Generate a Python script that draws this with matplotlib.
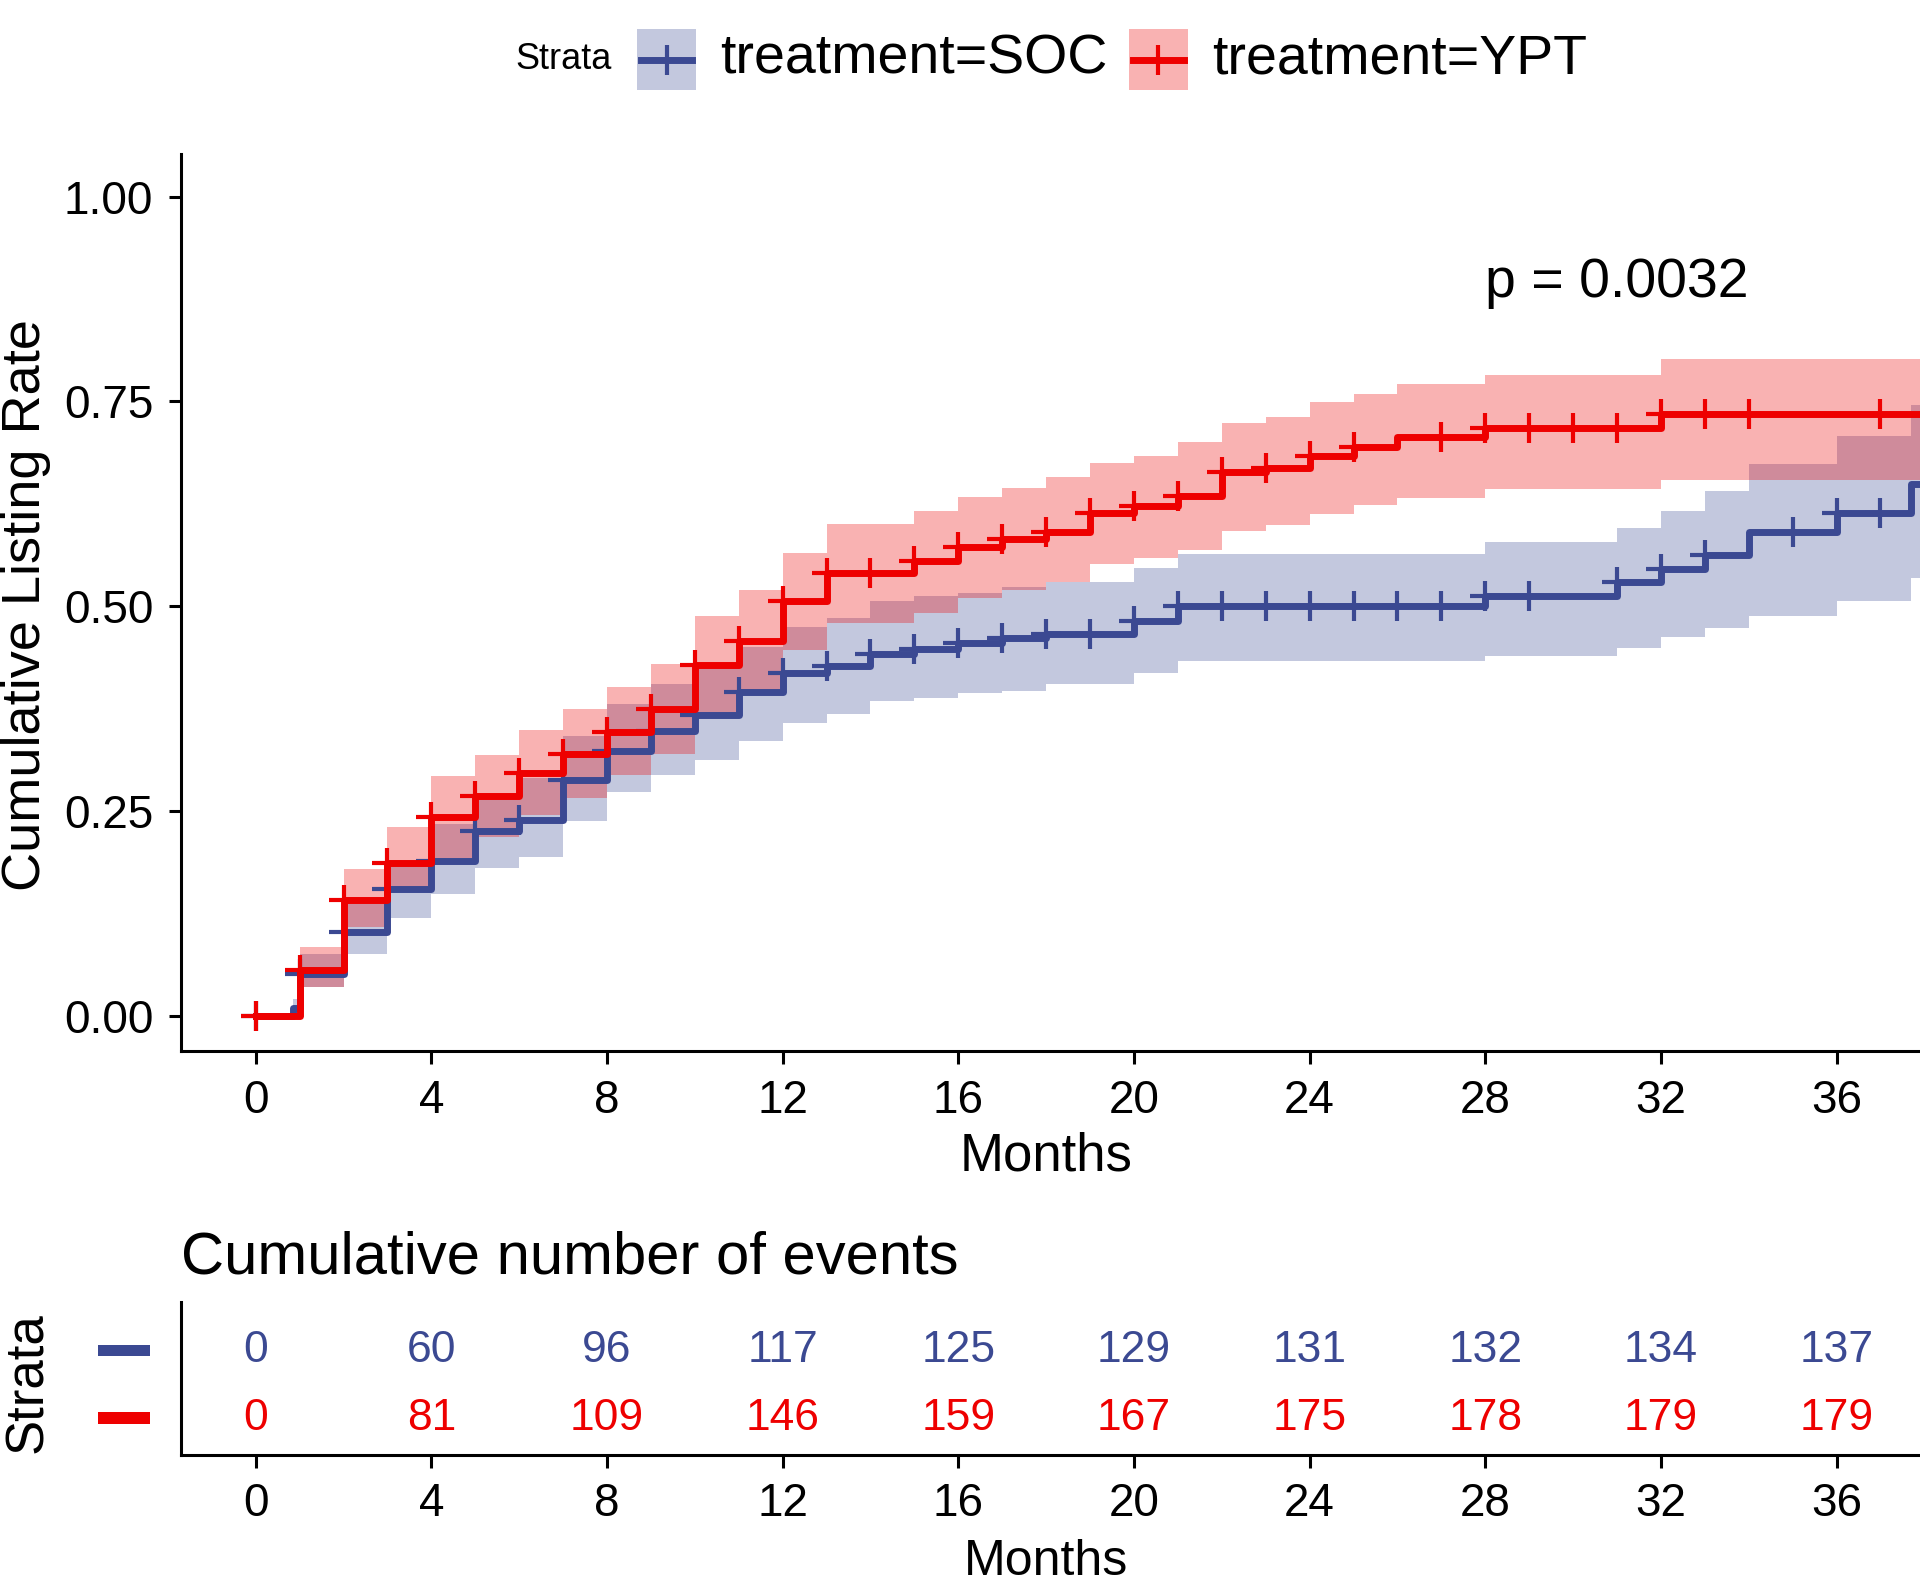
import numpy as np
import matplotlib
matplotlib.use("Agg")
import matplotlib.pyplot as plt
from matplotlib.patches import Rectangle
from matplotlib.lines import Line2D
from matplotlib.transforms import blended_transform_factory

plt.rcParams["font.family"] = ["Liberation Sans", "DejaVu Sans"]

# ---- data ----
# SOC arm: step start months, cumulative rate and 95% band
soc_t = [0, 0.85, 1, 2, 3, 4, 5, 6, 7, 8, 9, 10, 11, 12, 13, 14, 15, 16, 17, 18,
         20, 21, 28, 31, 32, 33, 34, 36, 37.7]
soc_v = [0, 0.010, 0.051, 0.102, 0.155, 0.189, 0.226, 0.239, 0.288, 0.323, 0.348,
         0.367, 0.395, 0.418, 0.427, 0.442, 0.448, 0.455, 0.461, 0.466, 0.482,
         0.500, 0.513, 0.529, 0.545, 0.563, 0.590, 0.614, 0.649]
soc_lo = [0, 0.0, 0.035, 0.075, 0.120, 0.149, 0.180, 0.194, 0.238, 0.273, 0.294,
          0.312, 0.336, 0.357, 0.369, 0.384, 0.388, 0.394, 0.397, 0.405, 0.418,
          0.433, 0.439, 0.449, 0.463, 0.473, 0.488, 0.506, 0.535]
soc_hi = [0, 0.020, 0.075, 0.136, 0.186, 0.234, 0.270, 0.290, 0.342, 0.381, 0.405,
          0.426, 0.450, 0.475, 0.485, 0.506, 0.512, 0.516, 0.523, 0.530, 0.547,
          0.564, 0.578, 0.596, 0.616, 0.641, 0.673, 0.708, 0.745]
soc_cens = [0, 1, 2, 3, 4, 5, 6, 7, 8, 9, 10, 11, 12, 13, 14, 15, 16, 17, 18, 19,
            20, 21, 22, 23, 24, 25, 26, 27, 28, 29, 31, 32, 33, 35, 36, 37]

# YPT arm
ypt_t = [0, 1, 2, 3, 4, 5, 6, 7, 8, 9, 10, 11, 12, 13, 15, 16, 17, 18, 19, 20,
         21, 22, 23, 24, 25, 26, 28, 32]
ypt_v = [0, 0.056, 0.141, 0.187, 0.243, 0.268, 0.297, 0.319, 0.346, 0.375, 0.428,
         0.458, 0.506, 0.541, 0.555, 0.572, 0.582, 0.591, 0.614, 0.622, 0.634,
         0.664, 0.669, 0.683, 0.694, 0.706, 0.718, 0.735]
ypt_lo = [0, 0.035, 0.108, 0.152, 0.193, 0.218, 0.245, 0.266, 0.294, 0.320, 0.368,
          0.398, 0.446, 0.480, 0.492, 0.510, 0.520, 0.530, 0.551, 0.559, 0.568,
          0.592, 0.599, 0.613, 0.624, 0.632, 0.643, 0.654]
ypt_hi = [0, 0.084, 0.179, 0.231, 0.293, 0.318, 0.349, 0.374, 0.401, 0.429, 0.488,
          0.520, 0.565, 0.600, 0.616, 0.633, 0.644, 0.658, 0.675, 0.683, 0.700,
          0.724, 0.731, 0.749, 0.759, 0.771, 0.782, 0.802]
ypt_cens = [0, 1, 2, 3, 4, 5, 6, 7, 8, 9, 10, 11, 12, 13, 14, 15, 16, 17, 18, 19,
            20, 21, 22, 23, 24, 25, 27, 28, 29, 30, 31, 32, 33, 34, 37]

max_month = 38.0

# cumulative number of events table
table_months = [0, 4, 8, 12, 16, 20, 24, 28, 32, 36]
soc_events = [0, 60, 96, 117, 125, 129, 131, 132, 134, 137]
ypt_events = [0, 81, 109, 146, 159, 167, 175, 178, 179, 179]

p_text = "p = 0.0032"
labels = ["treatment=SOC", "treatment=YPT"]
blue = "#3B4992"
red = "#EE0000"
line_w = 5.0

fig = plt.figure(figsize=(19.2, 15.87), dpi=100)

# ---- main curve panel ----
ax = fig.add_axes([0.0943, 0.3377, 0.9057, 0.5653])


def draw_arm(t, v, lo, hi, cens, color):
    t_ext = np.append(t, max_month)
    fill_ext = lambda a: np.append(a, a[-1])
    ax.fill_between(t_ext, fill_ext(lo), fill_ext(hi), step="post",
                    color=color, alpha=0.3, linewidth=0)
    ax.step(t_ext, fill_ext(v), where="post", color=color, lw=line_w)
    idx = np.searchsorted(t, cens, side="right") - 1
    ax.plot(cens, np.array(v)[idx], linestyle="none", marker="+",
            markersize=21, markeredgewidth=3, color=color)


draw_arm(soc_t, soc_v, soc_lo, soc_hi, soc_cens, blue)
draw_arm(ypt_t, ypt_v, ypt_lo, ypt_hi, ypt_cens, red)

ax.set_xlim(-1.7, 37.9)
ax.set_ylim(-0.043, 1.052)
ax.set_xticks(table_months)
ax.set_yticks([0, 0.25, 0.5, 0.75, 1.0])
ax.set_yticklabels(["0.00", "0.25", "0.50", "0.75", "1.00"])
for s in ["top", "right"]:
    ax.spines[s].set_visible(False)
for s in ["left", "bottom"]:
    ax.spines[s].set_linewidth(2.2)
ax.tick_params(labelsize=33, width=2.2, length=9, pad=11, colors="black")
ax.text(28.0, 0.894, p_text, fontsize=40, ha="left", va="center")

fig.text(0.545, 0.271, "Months", fontsize=38, ha="center", va="center")
fig.text(0.0135, 0.619, "Cumulative Listing Rate", fontsize=39, rotation=90,
         ha="center", va="center")

# ---- legend at top ----
key_y = 0.9625
fig.text(0.2935, key_y, "Strata", fontsize=26, ha="center", va="center")
for x0, color, lab in [(0.3318, blue, labels[0]), (0.5880, red, labels[1])]:
    fig.add_artist(Rectangle((x0, key_y - 0.0192), 0.0307, 0.0384,
                             transform=fig.transFigure, color=color,
                             alpha=0.3, linewidth=0))
    fig.add_artist(Line2D([x0 + 0.002, x0 + 0.0287], [key_y, key_y],
                          transform=fig.transFigure, color=color, lw=line_w))
    fig.add_artist(Line2D([x0 + 0.01535], [key_y], transform=fig.transFigure,
                          color=color, marker="+", markersize=21,
                          markeredgewidth=3))
    fig.text(x0 + 0.0432, key_y, lab, fontsize=40, ha="left", va="center")

# ---- risk table ----
tax = fig.add_axes([0.0943, 0.0830, 0.9057, 0.0964])
tax.set_xlim(-1.7, 37.9)
tax.set_ylim(0.455, 2.707)
for m, n in zip(table_months, soc_events):
    tax.text(m, 2, str(n), color=blue, fontsize=32, ha="center", va="center")
for m, n in zip(table_months, ypt_events):
    tax.text(m, 1, str(n), color=red, fontsize=32, ha="center", va="center")
tax.set_xticks(table_months)
tax.set_yticks([])
for s in ["top", "right"]:
    tax.spines[s].set_visible(False)
for s in ["left", "bottom"]:
    tax.spines[s].set_linewidth(2.2)
tax.tick_params(labelsize=33, width=2.2, length=9, pad=10, colors="black")
trans = blended_transform_factory(tax.transAxes, tax.transData)
for yrow, color in [(2, blue), (1, red)]:
    tax.add_patch(Rectangle((-0.0477, yrow - 0.085), 0.0299, 0.17,
                            transform=trans, color=color, clip_on=False,
                            linewidth=0))

fig.text(0.0943, 0.2076, "Cumulative number of events", fontsize=43,
         ha="left", va="center")
fig.text(0.0145, 0.1290, "Strata", fontsize=38, rotation=90,
         ha="center", va="center")
fig.text(0.545, 0.001, "Months", fontsize=36, ha="center", va="bottom")

fig.savefig("out.png", dpi=100)
